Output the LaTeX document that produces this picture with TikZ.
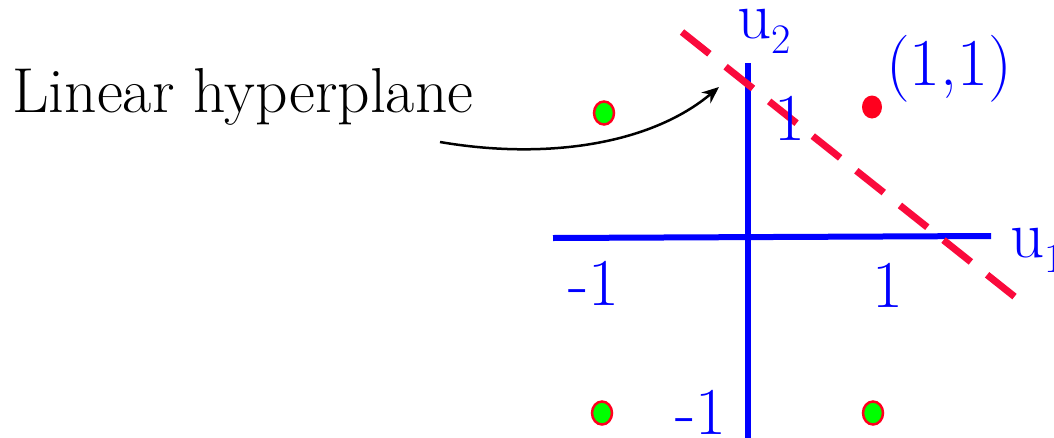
\documentclass[tikz,border=0pt]{standalone}
\usetikzlibrary{arrows.meta,shapes.geometric}
\definecolor{axisblue}{RGB}{0,0,255}
\definecolor{hpred}{RGB}{250,10,60}
\definecolor{dotgreen}{RGB}{0,255,0}
\definecolor{dotred}{RGB}{255,0,30}
\tikzset{
  axis/.style={draw=axisblue,line width=6pt},
  hyper/.style={draw=hpred,line width=7pt,dash pattern=on 35pt off 20.7pt},
  big/.style={font=\fontsize{63.5}{70}\selectfont,inner sep=0pt},
  lbl/.style={font=\fontsize{67}{72}\selectfont,inner sep=0pt,text=axisblue},
  gdot/.style={ellipse,minimum width=20pt,minimum height=23pt,inner sep=0pt,fill=dotgreen,draw=dotred,line width=2.5pt},
  rdot/.style={ellipse,minimum width=20pt,minimum height=23pt,inner sep=0pt,fill=dotred},
  pointer/.style={draw=black,line width=2.5pt,-{Stealth[length=17pt,width=14pt]}}
}
\begin{document}
\begin{tikzpicture}[x=1pt,y=-1pt]
\useasboundingbox (0,0) rectangle (1054,437);
% axes
\coordinate (vtop) at (748,63);
\coordinate (vbot) at (748,440);
\coordinate (hleft) at (553,238);
\coordinate (hright) at (991,236);
\draw[axis] (vtop) -- (vbot);
\draw[axis] (hleft) -- (hright);
% hyperplane
\coordinate (hpa) at (682,32);
\coordinate (hpb) at (1015,297);
\draw[hyper] (hpa) -- (hpb);
% labels
\node[lbl,anchor=base west] (u2) at (737,38) {u\raisebox{-15pt}{\fontsize{42}{44}\selectfont 2}};
\node[lbl,anchor=base west] (u1) at (1010,257) {u\raisebox{-15pt}{\fontsize{42}{44}\selectfont 1}};
\node[lbl,anchor=base west] (p11) at (886,85) {(1,1)};
\node[lbl,anchor=base] (ytop) at (790,140) {1};
\node[lbl,anchor=base west] (xleft) at (568,305) {-1};
\node[lbl,anchor=base] (xright) at (888,307) {1};
\node[lbl,anchor=base west] (ybot) at (675,434) {-1};
% points
\node[gdot] (d1) at (604,113) {};
\node[gdot] (d2) at (602,413) {};
\node[gdot] (d3) at (873,413) {};
\node[rdot] (d4) at (872,107) {};
% text and arrow
\node[big,anchor=base west] (lin) at (12,112) {Linear hyperplane};
\coordinate (astart) at (440,142);
\coordinate (atip) at (719,87);
\draw[pointer] (astart) .. controls (545,160) and (650,145) .. (atip);
\end{tikzpicture}
\end{document}
